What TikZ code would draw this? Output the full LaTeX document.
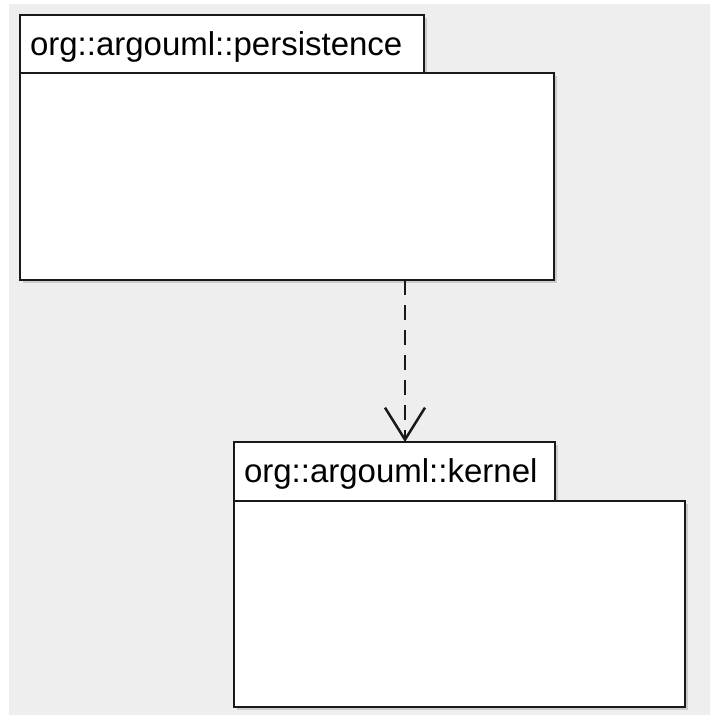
\documentclass[tikz,border=0pt]{standalone}
\usepackage{fontspec}
\setmainfont{Liberation Sans}
\usetikzlibrary{arrows.meta,shadows}
\usetikzlibrary{backgrounds,positioning,calc}

\definecolor{canvasgray}{HTML}{EEEEEE}

\begin{document}
\begin{tikzpicture}[x=1pt, y=-1pt, >={Straight Barb[length=32pt,width=40pt]}]

%local definitions
\tikzstyle{PackageTab} = [draw=black!90, fill=white, line width=2.5pt, rectangle, anchor=north west, outer sep=0pt, align=left, inner xsep=10pt, minimum height=58pt, text height=24pt, text depth=2pt, font=\fontsize{33}{40}\selectfont, drop shadow={shadow xshift=2.5pt, shadow yshift=-2.5pt, opacity=0.3}]
\tikzstyle{PackageBody} = [draw=black!90, fill=white, line width=2.5pt, rectangle, anchor=north west, outer sep=0pt, inner sep=0pt, drop shadow={shadow xshift=2.5pt, shadow yshift=-2.5pt, opacity=0.3}]
\tikzstyle{dependency} = [draw=black!90, line width=2.5pt, dash pattern=on 15pt off 10pt, ->]

\useasboundingbox (0,0) rectangle (710,715);

%packages
	\node [PackageTab, text width=384pt] (persTab) at (20,15) {org::argouml::persistence};
	\node [PackageBody, minimum width=534pt, minimum height=207pt] (persBody) at (persTab.south west) {};

	\node [PackageTab, text width=301pt, minimum height=59pt] (kernTab) at (234,442) {org::argouml::kernel};
	\node [PackageBody, minimum width=451pt, minimum height=206pt] (kernBody) at (kernTab.south west) {};

%connections
	\coordinate (depX) at (405,0);
	\draw [dependency] (persBody.south -| depX) -- (kernTab.north -| depX);

\begin{scope}[on background layer]
	\fill [white] (0,0) rectangle (710,715);
	\fill [canvasgray] (9,4) rectangle (710,715);
\end{scope}

\end{tikzpicture}
\end{document}
